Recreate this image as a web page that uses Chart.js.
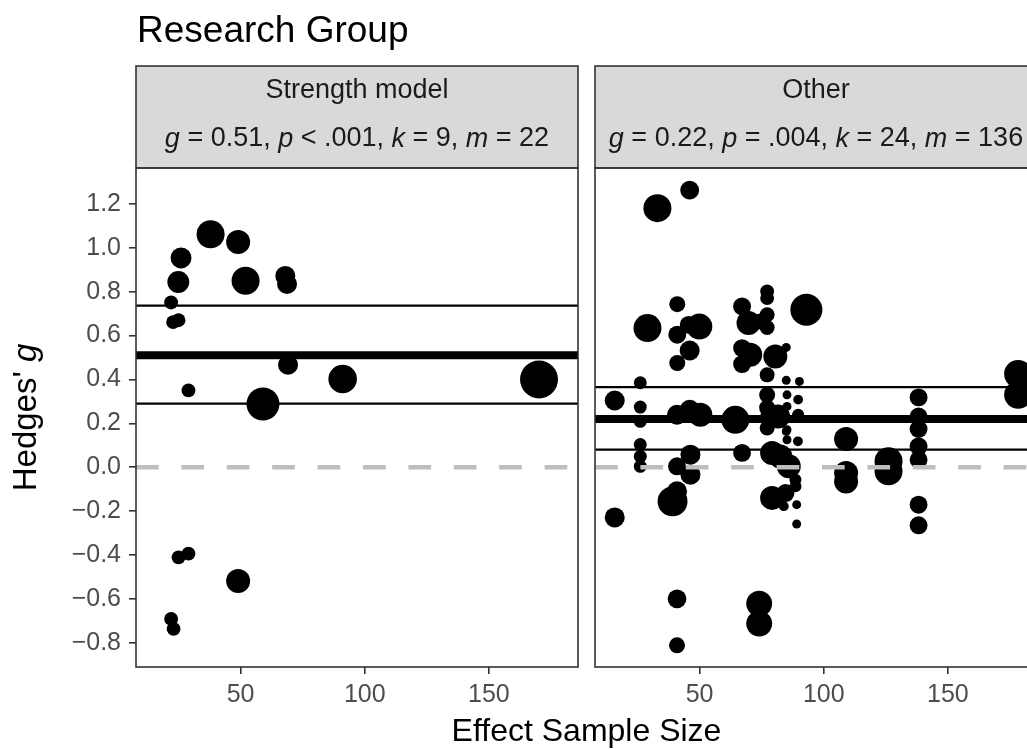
<!DOCTYPE html>
<html lang="en">
<head>
<meta charset="UTF-8" />
<title>Research Group</title>
<script src="https://cdn.jsdelivr.net/npm/chart.js@4.4.1/dist/chart.umd.min.js"></script>
<style>
  html, body { margin: 0; padding: 0; background: #fff; overflow: hidden; }
  body { width: 1027px; height: 749px; position: relative; font-family: "Liberation Sans", Arial, sans-serif; }
  #leftPanel { position: absolute; left: 0; top: 0; }
  #rightPanel { position: absolute; left: 585px; top: 0; }
  #xtitle {
    position: absolute; left: 136px; width: 901px; top: 714px;
    text-align: center; font-size: 32px; line-height: 32px; color: #000;
  }
</style>
</head>
<body>
<canvas id="leftPanel" width="580" height="749"></canvas>
<canvas id="rightPanel" width="462" height="749"></canvas>
<div id="xtitle">Effect Sample Size</div>
<script>
// --- data ---
const xTicks = [50, 100, 150];
const yTicks = [-0.8, -0.6, -0.4, -0.2, 0.0, 0.2, 0.4, 0.6, 0.8, 1.0, 1.2];

// Strength model panel: sample size, Hedges' g, weight
const strengthN = [37.9, 49.0, 26.0, 24.9, 52.0, 68.0, 68.7, 22.0, 22.8, 25.0,
  69.1, 29.0, 91.1, 170.2, 59.0, 25.0, 29.0, 49.0, 22.0, 23.0];
const strengthG = [1.062, 1.027, 0.954, 0.844, 0.850, 0.872, 0.835, 0.751, 0.661, 0.670,
  0.467, 0.350, 0.402, 0.400, 0.288, -0.411, -0.394, -0.519, -0.692, -0.737];
const strengthW = [49, 36, 27.5, 30, 49, 25, 25, 12, 12, 12,
  25, 12, 51, 90, 68, 12, 12, 36, 12, 12];
const strengthEst = 0.51;
const strengthCI = [0.29, 0.737];

// Other panel
const otherN = [33.0, 46.0, 29.0, 41.0, 41.0, 49.9, 45.6, 46.0, 41.0, 26.1,
  15.8, 26.1, 67.1, 77.2, 77.2, 69.7, 77.2, 77.2, 74.5, 93.0,
  67.1, 70.4, 67.1, 80.5, 84.9, 77.2, 84.9, 90.2, 138.2, 178.3,
  178.3, 26.1, 26.1, 26.1, 26.1, 40.9, 46.0, 50.3, 64.4, 67.1,
  40.9, 46.3, 46.3, 39.1, 40.9, 15.8, 77.8, 77.2, 81.6, 84.9,
  89.6, 89.6, 79.2, 82.5, 85.9, 88.6, 88.6, 79.2, 84.6, 83.9,
  89.1, 89.1, 109.0, 109.0, 109.0, 126.1, 126.1, 138.2, 138.2, 138.2,
  138.2, 138.2, 138.2, 40.9, 40.9, 74.0, 74.0, 85.2, 89.7, 85.2,
  77.2, 77.2, 89.7, 85.2, 85.2];
const otherG = [1.181, 1.263, 0.634, 0.743, 0.604, 0.641, 0.649, 0.532, 0.475, 0.385,
  0.304, 0.274, 0.733, 0.801, 0.771, 0.657, 0.695, 0.637, 0.664, 0.718,
  0.543, 0.513, 0.470, 0.505, 0.546, 0.421, 0.396, 0.391, 0.318, 0.425,
  0.330, 0.209, 0.103, 0.049, 0.004, 0.239, 0.262, 0.239, 0.216, 0.065,
  0.004, 0.057, -0.034, -0.156, -0.110, -0.229, 0.239, 0.179, 0.231, 0.163,
  0.231, 0.118, 0.065, 0.049, 0.004, -0.057, -0.087, -0.140, -0.118, -0.178,
  -0.171, -0.259, 0.128, -0.027, -0.065, 0.027, -0.019, 0.231, 0.174, 0.095,
  0.034, -0.171, -0.265, -0.600, -0.812, -0.622, -0.713, 0.330, 0.308, 0.277,
  0.330, 0.271, 0.239, 0.171, 0.125];
const otherW = [49, 22, 49, 16, 20, 42, 20, 25, 16, 10.5,
  25, 10.5, 20, 12, 12, 36, 14, 14, 16, 64,
  20, 36, 20, 36, 5, 14, 5, 5, 20, 49,
  49, 10.5, 10.5, 10.5, 10.5, 25, 25, 36, 49, 20,
  20, 25, 25, 56, 25, 25, 16, 14, 36, 5,
  9, 6, 36, 36, 36, 9, 9, 36, 20, 6,
  5, 5, 36, 36, 36, 49, 49, 20, 20, 20,
  20, 20, 20, 22, 16, 42, 42, 5, 6, 5,
  16, 16, 9, 5, 5];
const otherEst = 0.22;
const otherCI = [0.08, 0.365];

const xMin = 7.86, xMax = 185.9;
const yMin = -0.911, yMax = 1.364;

const FONT = '"Liberation Sans", Arial, Helvetica, sans-serif';

function richText(ctx, segs, cx, cy, size) {
  let total = 0;
  segs.forEach(s => {
    ctx.font = (s.i ? 'italic ' : '') + size + 'px ' + FONT;
    s.w = ctx.measureText(s.t).width;
    total += s.w;
  });
  let x = cx - total / 2;
  ctx.textAlign = 'left';
  ctx.textBaseline = 'middle';
  segs.forEach(s => {
    ctx.font = (s.i ? 'italic ' : '') + size + 'px ' + FONT;
    ctx.fillText(s.t, x, cy);
    x += s.w;
  });
}

function makeChart(id, ns, gs, ws, est, ci, stripName, stripStats, isLeft) {
  const pts = ns.map((n, i) => ({ x: n, y: gs[i], r: 2 * Math.sqrt(ws[i]) }));
  const hline = v => [{ x: xMin, y: v }, { x: xMax, y: v }];

  const facetPlugin = {
    id: 'facet',
    afterDraw(chart) {
      const ctx = chart.ctx;
      const a = chart.chartArea;
      ctx.save();
      // strip
      ctx.fillStyle = '#d9d9d9';
      ctx.fillRect(a.left, 66, a.right - a.left, a.top - 66);
      ctx.strokeStyle = '#333333';
      ctx.lineWidth = 1.6;
      ctx.strokeRect(a.left, 66, a.right - a.left, a.top - 66);
      ctx.fillStyle = '#1a1a1a';
      const cx = (a.left + a.right) / 2;
      richText(ctx, [{ t: stripName }], cx, 91, 27);
      richText(ctx, stripStats, cx, 139, 27);
      // panel border
      ctx.strokeRect(a.left, a.top, a.right - a.left, a.bottom - a.top);
      if (isLeft) {
        ctx.fillStyle = '#000';
        ctx.font = '37px ' + FONT;
        ctx.textAlign = 'left';
        ctx.textBaseline = 'alphabetic';
        ctx.fillText('Research Group', 137, 42);
        ctx.translate(27, (a.top + a.bottom) / 2);
        ctx.rotate(-Math.PI / 2);
        richText(ctx, [{ t: "Hedges' " }, { t: 'g', i: true }], 0, 0, 33);
      }
      ctx.restore();
    }
  };

  return new Chart(document.getElementById(id), {
    type: 'bubble',
    data: {
      datasets: [
        { type: 'line', data: hline(0), borderColor: '#bebebe', borderWidth: 4.5,
          borderDash: [22.7, 22.7], pointRadius: 0, order: 0, clip: 0 },
        { type: 'line', data: hline(est), borderColor: '#000', borderWidth: 8,
          pointRadius: 0, order: 0, clip: 0 },
        { type: 'line', data: hline(ci[0]), borderColor: '#000', borderWidth: 2.2,
          pointRadius: 0, order: 0, clip: 0 },
        { type: 'line', data: hline(ci[1]), borderColor: '#000', borderWidth: 2.2,
          pointRadius: 0, order: 0, clip: 0 },
        { data: pts, backgroundColor: '#000', borderWidth: 0, order: 1, clip: 0 }
      ]
    },
    options: {
      responsive: false,
      animation: false,
      events: [],
      layout: { autoPadding: false,
        padding: { left: isLeft ? 0 : 10, right: isLeft ? 2 : 10, top: 168, bottom: 0 } },
      plugins: { legend: { display: false }, tooltip: { enabled: false } },
      scales: {
        x: {
          type: 'linear', min: xMin, max: xMax,
          afterBuildTicks: s => { s.ticks = xTicks.map(v => ({ value: v })); },
          afterFit: s => { s.height = 82; s.paddingLeft = 0; s.paddingRight = 0; },
          grid: { drawOnChartArea: false, drawTicks: true, tickLength: 7, color: '#333333', lineWidth: 1.6 },
          border: { display: false },
          ticks: { font: { family: FONT, size: 25 }, color: '#4d4d4d', padding: 6,
            maxRotation: 0, autoSkip: false }
        },
        y: {
          type: 'linear', min: yMin, max: yMax, display: isLeft,
          afterBuildTicks: s => { s.ticks = yTicks.map(v => ({ value: v })); },
          afterFit: s => { s.width = isLeft ? 136 : 0; s.paddingTop = 0; s.paddingBottom = 0; },
          grid: { drawOnChartArea: false, drawTicks: true, tickLength: 7, color: '#333333', lineWidth: 1.6 },
          border: { display: false },
          ticks: { font: { family: FONT, size: 25 }, color: '#4d4d4d', padding: 8, autoSkip: false,
            callback: v => (v < -1e-9 ? '\u2212' : '') + Math.abs(v).toFixed(1) }
        }
      }
    },
    plugins: [facetPlugin]
  });
}

makeChart('leftPanel', strengthN, strengthG, strengthW, strengthEst, strengthCI, 'Strength model',
  [{ t: 'g', i: true }, { t: ' = 0.51, ' }, { t: 'p', i: true }, { t: ' < .001, ' },
   { t: 'k', i: true }, { t: ' = 9, ' }, { t: 'm', i: true }, { t: ' = 22' }], true);
makeChart('rightPanel', otherN, otherG, otherW, otherEst, otherCI, 'Other',
  [{ t: 'g', i: true }, { t: ' = 0.22, ' }, { t: 'p', i: true }, { t: ' = .004, ' },
   { t: 'k', i: true }, { t: ' = 24, ' }, { t: 'm', i: true }, { t: ' = 136' }], false);
</script>
</body>
</html>
